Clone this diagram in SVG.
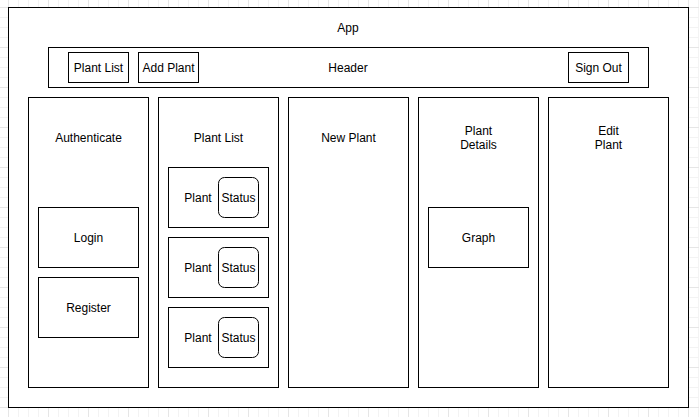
<svg xmlns="http://www.w3.org/2000/svg" width="699" height="417" viewBox="0 0 699 417">
<style>
.b{fill:#fff;stroke:#000;stroke-width:1}
.t{font-family:"Liberation Sans",Arial,sans-serif;font-size:12px;fill:#000;text-anchor:middle;dominant-baseline:central}
</style>
<defs>
<pattern id="minor" x="8" y="7" width="10" height="10" patternUnits="userSpaceOnUse">
<path d="M0.5 0V10M0 0.5H10" stroke="#f3f3f3" stroke-width="1" fill="none"/>
</pattern>
<pattern id="major" x="8" y="7" width="40" height="40" patternUnits="userSpaceOnUse">
<path d="M0.5 0V40M0 0.5H40" stroke="#e6e6e6" stroke-width="1" fill="none"/>
</pattern>
</defs>
<rect width="699" height="417" fill="#fff"/>
<rect width="699" height="417" fill="url(#minor)"/>
<rect width="699" height="417" fill="url(#major)"/>
<g id="app"><rect class="b" x="8.5" y="7.5" width="680" height="400"/><text class="t" x="348" y="28">App</text></g>
<g id="header"><rect class="b" x="48.5" y="47.5" width="600" height="40"/><text class="t" x="348" y="68">Header</text></g>
<g id="btn-plantlist"><rect class="b" x="68.5" y="52.5" width="60" height="30"/><text class="t" x="98.5" y="68">Plant List</text></g>
<g id="btn-addplant"><rect class="b" x="138.5" y="52.5" width="60" height="30"/><text class="t" x="168.5" y="68">Add Plant</text></g>
<g id="btn-signout"><rect class="b" x="568.5" y="52.5" width="60" height="30"/><text class="t" x="598.5" y="68">Sign Out</text></g>
<g id="authenticate"><rect class="b" x="28.5" y="97.5" width="120" height="290"/><text class="t" x="88.5" y="138">Authenticate</text></g>
<g id="login"><rect class="b" x="38.5" y="207.5" width="100" height="60"/><text class="t" x="88.5" y="238">Login</text></g>
<g id="register"><rect class="b" x="38.5" y="277.5" width="100" height="60"/><text class="t" x="88.5" y="308">Register</text></g>
<g id="plantlist"><rect class="b" x="158.5" y="97.5" width="120" height="290"/><text class="t" x="218.5" y="138">Plant List</text></g>
<g id="plant1"><rect class="b" x="168.5" y="167.5" width="100" height="60"/><text class="t" x="198" y="198">Plant</text><rect class="b" x="218.5" y="177.5" width="40" height="40" rx="6"/><text class="t" x="238.5" y="198">Status</text></g>
<g id="plant2"><rect class="b" x="168.5" y="237.5" width="100" height="60"/><text class="t" x="198" y="268">Plant</text><rect class="b" x="218.5" y="247.5" width="40" height="40" rx="6"/><text class="t" x="238.5" y="268">Status</text></g>
<g id="plant3"><rect class="b" x="168.5" y="307.5" width="100" height="60"/><text class="t" x="198" y="338">Plant</text><rect class="b" x="218.5" y="317.5" width="40" height="40" rx="6"/><text class="t" x="238.5" y="338">Status</text></g>
<g id="newplant"><rect class="b" x="288.5" y="97.5" width="120" height="290"/><text class="t" x="348.5" y="138">New Plant</text></g>
<g id="plantdetails"><rect class="b" x="418.5" y="97.5" width="120" height="290"/><text class="t" x="478.5" y="131">Plant</text><text class="t" x="478.5" y="145">Details</text></g>
<g id="graph"><rect class="b" x="428.5" y="207.5" width="100" height="60"/><text class="t" x="478.5" y="238">Graph</text></g>
<g id="editplant"><rect class="b" x="548.5" y="97.5" width="120" height="290"/><text class="t" x="608.5" y="131">Edit</text><text class="t" x="608.5" y="145">Plant</text></g>
<g id="connectors"></g>
</svg>
